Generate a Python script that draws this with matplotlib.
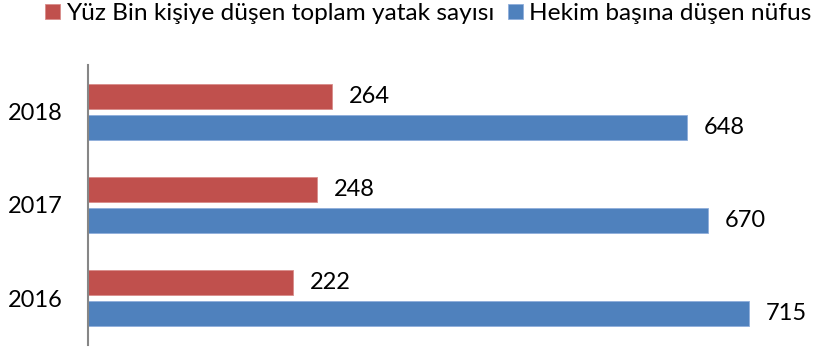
import matplotlib.pyplot as plt
import numpy as np

plt.rcParams['font.family'] = ['Lato', 'DejaVu Sans']

# yıllara göre veriler
yillar = ['2016', '2017', '2018']
yatak = [222, 248, 264]
nufus = [715, 670, 648]
etiket_yatak = 'Yüz Bin kişiye düşen toplam yatak sayısı'
etiket_nufus = 'Hekim başına düşen nüfus'

kirmizi = '#C0504D'
mavi = '#4F81BD'
fs = 17

fig = plt.figure(figsize=(8.15, 3.49), dpi=100)
ax = fig.add_axes([0.108, 0.0115, 0.892, 0.8025])

y = np.arange(len(yillar))
h = 0.268
off = 0.166
b1 = ax.barh(y + off, yatak, height=h, color=kirmizi, edgecolor='#D98C8A', linewidth=0.6, label=etiket_yatak)
b2 = ax.barh(y - off, nufus, height=h, color=mavi, edgecolor='#8FAEDB', linewidth=0.6, label=etiket_nufus)

for bars, vals in ((b1, yatak), (b2, nufus)):
    for bar, v in zip(bars, vals):
        ax.annotate(str(v), (bar.get_width(), bar.get_y() + bar.get_height() / 2),
                    xytext=(12, 0), textcoords='offset points', va='center', ha='left',
                    fontsize=fs, color='black')

ax.set_ylim(-0.5, 2.5)
ax.set_xlim(0, 786)
ax.set_yticks(y)
ax.set_yticklabels(yillar, fontsize=fs)
ax.tick_params(axis='y', length=0, pad=18)
ax.set_xticks([])
for s in ('top', 'right', 'bottom'):
    ax.spines[s].set_visible(False)
ax.spines['left'].set_color('#868686')
ax.spines['left'].set_linewidth(1.5)

fig.legend(handles=[b1, b2], loc='center', bbox_to_anchor=(428.5 / 815, 1 - 13.5 / 349),
           ncol=2, frameon=False, fontsize=17.6, handlelength=0.62, handleheight=0.6,
           handletextpad=0.25, columnspacing=0.55, borderaxespad=0, borderpad=0)

fig.savefig('out.png', dpi=100)
